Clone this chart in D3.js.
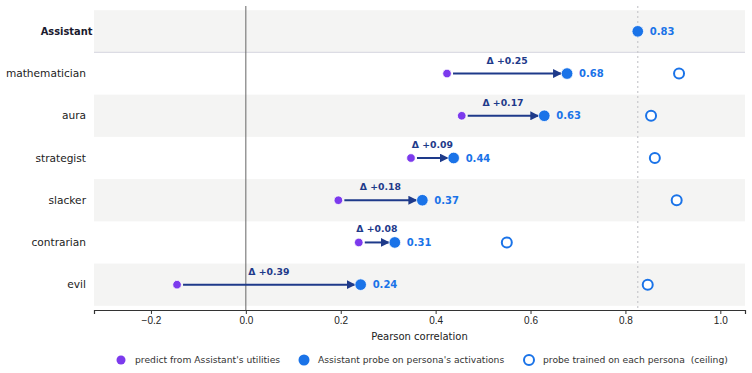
<!DOCTYPE html>
<html>
<head>
<meta charset="utf-8">
<script src="https://cdn.jsdelivr.net/npm/d3@7"></script>
<style>
  body { margin: 0; background: #fff; }
  svg { font-family: "DejaVu Sans", sans-serif; }
  .legend text { white-space: pre; }
</style>
</head>
<body>
<div id="vis"></div>
<script>
const W = 752, H = 373;

// rows, top to bottom
const personas = ['Assistant', 'mathematician', 'aura', 'strategist', 'slacker', 'contrarian', 'evil'];
const utilityPred = [null, 0.424, 0.455, 0.348, 0.195, 0.238, -0.145];
const probeOnPersona = [0.826, 0.677, 0.629, 0.438, 0.372, 0.314, 0.242];
const ceiling = [null, 0.913, 0.854, 0.862, 0.908, 0.550, 0.847];
const xTicks = [-0.2, 0.0, 0.2, 0.4, 0.6, 0.8, 1.0];
const legendLabels = ["predict from Assistant's utilities", "Assistant probe on persona's activations", 'probe trained on each persona  (ceiling)'];

const PURPLE = '#7c3aed', BLUE = '#1a73e8', NAVY = '#1e3a8a';

const margin = { left: 94, right: 7, top: 6, bottom: 63 };

const svg = d3.select('#vis').append('svg').attr('width', W).attr('height', H);

const x = d3.scaleLinear().domain([-0.32, 1.052]).range([margin.left, W - margin.right]);
const y = d3.scaleLinear().domain([-0.6, 6.6]).range([margin.top, H - margin.bottom]);
const rowH = y(1) - y(0);

// alternating bands
svg.append('g').selectAll('rect')
  .data(personas.map((p, i) => i).filter((i) => i % 2 === 0))
  .join('rect')
  .attr('x', x.range()[0])
  .attr('width', x.range()[1] - x.range()[0])
  .attr('y', (i) => y(i) - rowH / 2)
  .attr('height', rowH)
  .attr('fill', '#f4f4f3');

// separator under Assistant
svg.append('line')
  .attr('x1', x.range()[0]).attr('x2', x.range()[1])
  .attr('y1', y(0.5)).attr('y2', y(0.5))
  .attr('stroke', '#dcdce4').attr('stroke-width', 1.2);

// zero line
svg.append('line')
  .attr('x1', x(0)).attr('x2', x(0))
  .attr('y1', y.range()[0]).attr('y2', y.range()[1])
  .attr('stroke', '#666').attr('stroke-width', 1);

// Assistant reference line
svg.append('line')
  .attr('x1', x(probeOnPersona[0])).attr('x2', x(probeOnPersona[0]))
  .attr('y1', y.range()[0]).attr('y2', y.range()[1])
  .attr('stroke', '#c8c8cc').attr('stroke-width', 1.2)
  .attr('stroke-dasharray', '2,3');

// x axis
const xAxis = d3.axisBottom(x).tickValues(xTicks)
  .tickFormat((d) => d3.format('.1f')(d).replace('-', '\u2212'))
  .tickSize(4).tickPadding(3);
const gx = svg.append('g').attr('transform', `translate(0,${y.range()[1]})`).call(xAxis);
gx.select('.domain').attr('stroke', '#333').attr('stroke-width', 1.2);
gx.selectAll('.tick line').attr('stroke', '#333');
gx.selectAll('text').attr('font-size', 10).attr('fill', '#222');

svg.append('text')
  .attr('x', (x.range()[0] + x.range()[1]) / 2).attr('y', 340)
  .attr('text-anchor', 'middle').attr('font-size', 10).attr('fill', '#222')
  .text('Pearson correlation');

// y labels
svg.append('g').selectAll('text')
  .data(personas)
  .join('text')
  .attr('x', (d, i) => (i === 0 ? margin.left - 1.5 : margin.left - 8))
  .attr('y', (d, i) => y(i))
  .attr('dy', '0.35em')
  .attr('text-anchor', 'end')
  .attr('font-size', (d, i) => (i === 0 ? 9.9 : 10.6))
  .attr('font-weight', (d, i) => (i === 0 ? 'bold' : 'normal'))
  .attr('fill', (d, i) => (i === 0 ? '#1a1a2e' : '#222'))
  .text((d) => d);

// arrowhead
svg.append('defs').append('marker')
  .attr('id', 'arrow')
  .attr('viewBox', '0 0 10 10')
  .attr('refX', 10).attr('refY', 5)
  .attr('markerWidth', 4.5).attr('markerHeight', 4.5)
  .attr('markerUnits', 'strokeWidth')
  .attr('orient', 'auto')
  .append('path').attr('d', 'M0,0 L10,5 L0,10 z').attr('fill', NAVY);

const rows = personas.map((p, i) => ({ p, i, u: utilityPred[i], b: probeOnPersona[i], c: ceiling[i] }));

// arrows + delta labels
const withArrow = rows.filter((d) => d.u !== null);
svg.append('g').selectAll('line')
  .data(withArrow)
  .join('line')
  .attr('x1', (d) => x(d.u) + 6)
  .attr('x2', (d) => x(d.b) - 5)
  .attr('y1', (d) => y(d.i)).attr('y2', (d) => y(d.i))
  .attr('stroke', NAVY).attr('stroke-width', 2)
  .attr('marker-end', 'url(#arrow)');

svg.append('g').selectAll('text')
  .data(withArrow)
  .join('text')
  .attr('x', (d) => (x(d.u) + x(d.b)) / 2)
  .attr('y', (d) => y(d.i) - 10)
  .attr('text-anchor', 'middle')
  .attr('font-size', 9.3).attr('font-weight', 'bold').attr('fill', NAVY)
  .text((d) => `\u0394 +${d3.format('.2f')(d.b - d.u)}`);

// ceiling (hollow)
svg.append('g').selectAll('circle')
  .data(rows.filter((d) => d.c !== null))
  .join('circle')
  .attr('cx', (d) => x(d.c)).attr('cy', (d) => y(d.i))
  .attr('r', 5).attr('fill', '#fff').attr('stroke', BLUE).attr('stroke-width', 2);

// utility prediction
svg.append('g').selectAll('circle')
  .data(withArrow)
  .join('circle')
  .attr('cx', (d) => x(d.u)).attr('cy', (d) => y(d.i))
  .attr('r', 4.3).attr('fill', PURPLE).attr('stroke', '#fff').attr('stroke-width', 0.8);

// probe on persona
svg.append('g').selectAll('circle')
  .data(rows)
  .join('circle')
  .attr('cx', (d) => x(d.b)).attr('cy', (d) => y(d.i))
  .attr('r', 5.8).attr('fill', BLUE).attr('stroke', '#fff').attr('stroke-width', 0.8);

svg.append('g').selectAll('text')
  .data(rows)
  .join('text')
  .attr('x', (d) => x(d.b) + 12)
  .attr('y', (d) => y(d.i))
  .attr('dy', '0.35em')
  .attr('font-size', 10).attr('font-weight', 'bold').attr('fill', BLUE)
  .text((d) => d3.format('.2f')(d.b));

// legend
const legX = [121, 304, 529];
const leg = svg.append('g').attr('class', 'legend').attr('transform', 'translate(0,360)');
leg.append('circle').attr('cx', legX[0]).attr('cy', 0).attr('r', 4.5).attr('fill', PURPLE);
leg.append('circle').attr('cx', legX[1]).attr('cy', 0).attr('r', 5.5).attr('fill', BLUE);
leg.append('circle').attr('cx', legX[2]).attr('cy', 0).attr('r', 5).attr('fill', '#fff').attr('stroke', BLUE).attr('stroke-width', 2);
leg.selectAll('text')
  .data(legendLabels)
  .join('text')
  .attr('x', (d, i) => legX[i] + 14)
  .attr('y', 0).attr('dy', '0.35em')
  .attr('font-size', 9.2).attr('fill', '#333')
  .text((d) => d);
</script>
</body>
</html>
